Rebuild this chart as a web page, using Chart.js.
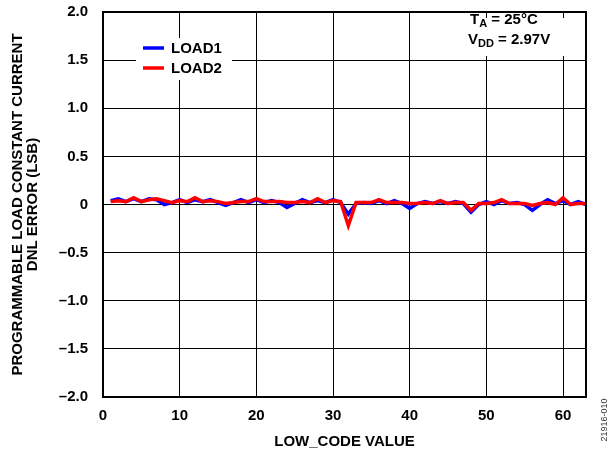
<!DOCTYPE html>
<html>
<head>
<meta charset="utf-8">
<script src="https://cdn.jsdelivr.net/npm/chart.js@4.4.1/dist/chart.umd.min.js"></script>
<style>
  html, body { margin: 0; padding: 0; background: #fff; }
  #wrap { position: relative; width: 613px; height: 456px; }
</style>
</head>
<body>
<div id="wrap"><canvas id="dnlChart" width="613" height="456"></canvas></div>
<script>
// LOW_CODE values and DNL error (LSB)
const lowCodes = [1, 2, 3, 4, 5, 6, 7, 8, 9, 10, 11, 12, 13, 14, 15, 16, 17, 18, 19, 20, 21,
    22, 23, 24, 25, 26, 27, 28, 29, 30, 31, 32, 33, 34, 35, 36, 37, 38, 39, 40, 41, 42,
    43, 44, 45, 46, 47, 48, 49, 50, 51, 52, 53, 54, 55, 56, 57, 58, 59, 60, 61, 62, 63];
const load1Dnl = [0.04, 0.06, 0.03, 0.06, 0.03, 0.06, 0.05, 0.00, 0.02, 0.05, 0.02, 0.05, 0.03, 0.05, 0.02, -0.01,
    0.02, 0.05, 0.02, 0.05, 0.02, 0.04, 0.02, -0.03, 0.01, 0.05, 0.02, 0.04, 0.02, 0.05, 0.02, -0.10,
    0.01, 0.02, 0.01, 0.04, 0.01, 0.04, 0.01, -0.04, 0.01, 0.03, 0.01, 0.03, 0.01, 0.03, 0.01, -0.08,
    0.00, 0.03, 0.00, 0.04, 0.01, 0.02, 0.00, -0.06, 0.00, 0.05, 0.01, 0.04, 0.00, 0.03, 0.00];
const load2Dnl = [0.03, 0.04, 0.03, 0.07, 0.03, 0.05, 0.06, 0.04, 0.02, 0.04, 0.03, 0.07, 0.03, 0.04, 0.03, 0.01,
    0.02, 0.03, 0.03, 0.06, 0.03, 0.03, 0.03, 0.02, 0.02, 0.03, 0.02, 0.06, 0.02, 0.04, 0.03, -0.22,
    0.02, 0.02, 0.02, 0.05, 0.02, 0.02, 0.02, 0.01, 0.01, 0.02, 0.01, 0.04, 0.01, 0.02, 0.02, -0.06,
    0.01, 0.01, 0.02, 0.05, 0.01, 0.01, 0.01, -0.01, 0.01, 0.02, 0.00, 0.07, 0.00, 0.01, 0.01];
const seriesNames = ["LOAD1", "LOAD2"];
const xTickValues = [0, 10, 20, 30, 40, 50, 60];
const yTickValues = [-2, -1.5, -1, -0.5, 0, 0.5, 1, 1.5, 2];
const yTickLabels = ["\u20132.0", "\u20131.5", "\u20131.0", "\u20130.5", "0", "0.5", "1.0", "1.5", "2.0"];

const FONT = "'Liberation Sans', Arial, sans-serif";

function toPoints(values) {
    return lowCodes.map((code, i) => ({ x: code, y: values[i] }));
}

// frame, in-plot legend, test conditions and figure number
const overlayPlugin = {
    id: "overlay",
    afterDraw(chart) {
        const { ctx, chartArea: a } = chart;
        ctx.save();
        ctx.strokeStyle = "#000";
        ctx.lineWidth = 2;
        ctx.strokeRect(a.left, a.top, a.right - a.left, a.bottom - a.top);

        ctx.fillStyle = "#fff";
        ctx.fillRect(136, 38, 96, 42);
        ctx.font = "bold 15px " + FONT;
        ctx.textBaseline = "middle";
        ctx.textAlign = "left";
        seriesNames.forEach((name, i) => {
            const ds = chart.data.datasets[i];
            const y = 48 + i * 20;
            ctx.strokeStyle = ds.borderColor;
            ctx.lineWidth = 3.5;
            ctx.beginPath();
            ctx.moveTo(143, y);
            ctx.lineTo(164, y);
            ctx.stroke();
            ctx.fillStyle = "#000";
            ctx.fillText(name, 171, y + 1);
        });

        ctx.fillStyle = "#fff";
        ctx.fillRect(464, 18, 112, 38);
        ctx.fillStyle = "#000";
        const drawSub = (x, y, main, sub, rest) => {
            ctx.font = "bold 15px " + FONT;
            ctx.fillText(main, x, y);
            x += ctx.measureText(main).width;
            ctx.font = "bold 11px " + FONT;
            ctx.fillText(sub, x, y + 4);
            x += ctx.measureText(sub).width;
            ctx.font = "bold 15px " + FONT;
            ctx.fillText(rest, x, y);
        };
        drawSub(470, 20, "T", "A", " = 25\u00b0C");
        drawSub(468, 40, "V", "DD", " = 2.97V");

        ctx.translate(605, 420);
        ctx.rotate(-Math.PI / 2);
        ctx.textAlign = "center";
        ctx.font = "9px " + FONT;
        ctx.fillStyle = "#333";
        ctx.fillText("21916-010", 0, 0);
        ctx.restore();
    }
};

new Chart(document.getElementById("dnlChart").getContext("2d"), {
    type: "line",
    data: {
        datasets: [
            { label: seriesNames[0], data: toPoints(load1Dnl), borderColor: "#0000ff", borderWidth: 3.5, pointRadius: 0, tension: 0, order: 2 },
            { label: seriesNames[1], data: toPoints(load2Dnl), borderColor: "#ff0000", borderWidth: 3.5, pointRadius: 0, tension: 0, order: 1 }
        ]
    },
    options: {
        responsive: false,
        animation: false,
        devicePixelRatio: 1,
        layout: { padding: { top: 12, right: 27, bottom: 0, left: 0 } },
        plugins: { legend: { display: false }, tooltip: { enabled: false } },
        scales: {
            x: {
                type: "linear",
                min: 0,
                max: 63,
                afterBuildTicks: s => { s.ticks = xTickValues.map(v => ({ value: v })); },
                afterFit: s => { s.height = 59; s.paddingLeft = 0; s.paddingRight = 0; },
                grid: { color: "#000", lineWidth: 1, drawTicks: false },
                border: { color: "#000", width: 2 },
                ticks: { autoSkip: false, maxRotation: 0, padding: 10, color: "#000", font: { family: FONT, size: 15, weight: "bold" } },
                title: { display: true, text: "LOW_CODE VALUE", color: "#000", padding: { top: 0, bottom: 7 }, font: { family: FONT, size: 15, weight: "bold", lineHeight: 1 } }
            },
            y: {
                min: -2,
                max: 2,
                afterBuildTicks: s => { s.ticks = yTickValues.map(v => ({ value: v })); },
                afterFit: s => { s.width = 103; s.paddingTop = 0; s.paddingBottom = 0; },
                grid: { color: "#000", lineWidth: 1, drawTicks: false },
                border: { color: "#000", width: 2 },
                ticks: {
                    padding: 15,
                    color: "#000",
                    font: { family: FONT, size: 15, weight: "bold" },
                    callback: v => yTickLabels[yTickValues.indexOf(v)]
                },
                title: {
                    display: true,
                    text: ["PROGRAMMABLE LOAD CONSTANT CURRENT", "DNL ERROR (LSB)"],
                    color: "#000",
                    padding: { top: 10, bottom: 0 },
                    font: { family: FONT, size: 15, weight: "bold", lineHeight: 1 }
                }
            }
        }
    },
    plugins: [overlayPlugin]
});
</script>
</body>
</html>
